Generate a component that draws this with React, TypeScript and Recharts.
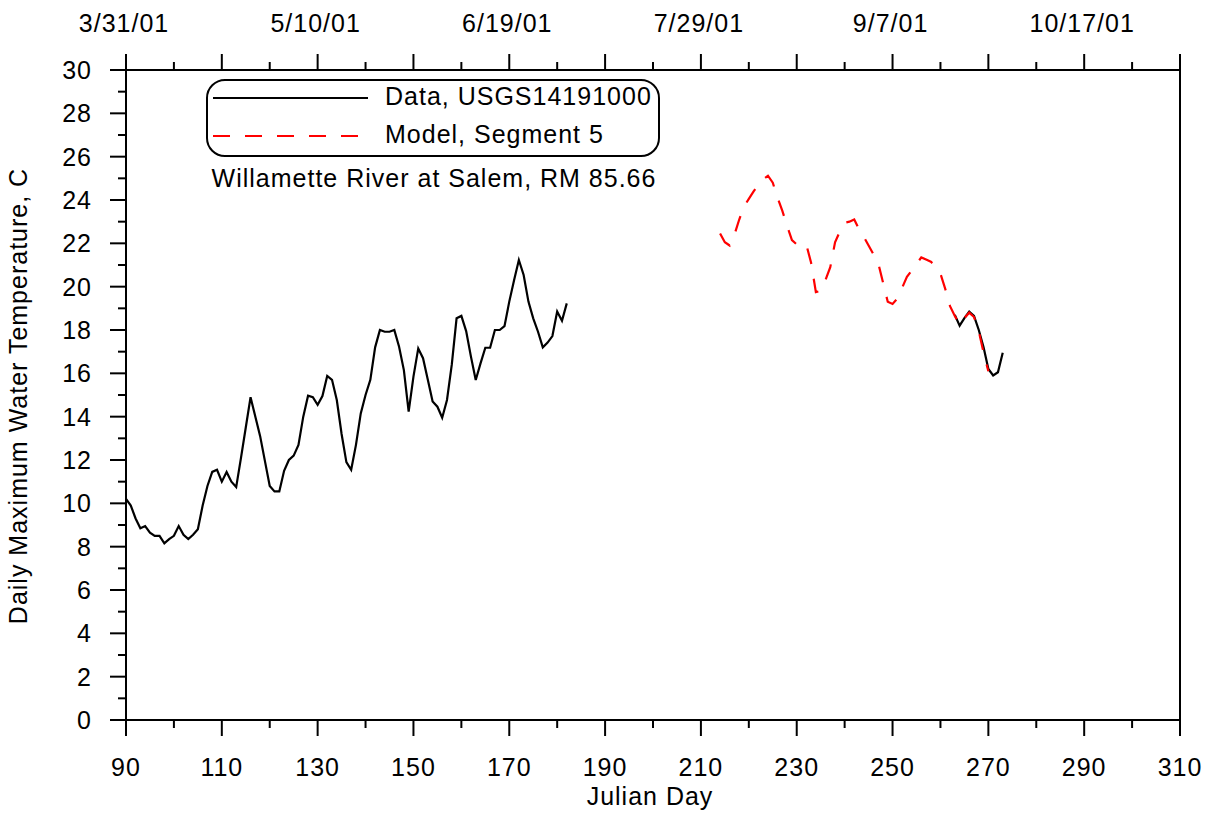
import { LineChart, Line, XAxis, YAxis, ReferenceLine } from 'recharts'

const FONT = '"Liberation Sans", Arial, sans-serif'

// Julian day axis (bottom), every 10 days, labelled every 20
const X_TICKS = [90, 100, 110, 120, 130, 140, 150, 160, 170, 180, 190, 200, 210, 220, 230, 240, 250, 260, 270, 280, 290, 300, 310]
const X_MAJOR = [90, 110, 130, 150, 170, 190, 210, 230, 250, 270, 290, 310]

// calendar dates on the top axis
const TOP_LABEL_DAYS = [90, 130, 170, 210, 250, 290]
const TOP_LABELS = ['3/31/01', '5/10/01', '6/19/01', '7/29/01', '9/7/01', '10/17/01']

const Y_TICKS = [0, 1, 2, 3, 4, 5, 6, 7, 8, 9, 10, 11, 12, 13, 14, 15, 16, 17, 18, 19, 20, 21, 22, 23, 24, 25, 26, 27, 28, 29, 30]

// Data, USGS14191000 - daily max from day 90
const OBS_START_A = 90
const OBS_TEMPS_A = [
  10.2, 9.9, 9.3, 8.85, 8.95, 8.65, 8.5, 8.5, 8.15, 8.35,
  8.5, 8.95, 8.55, 8.35, 8.55, 8.8, 9.9, 10.8, 11.45, 11.55,
  11.0, 11.45, 11.0, 10.75, 12.1, 13.5, 14.9, 14.0, 13.1, 11.95,
  10.8, 10.55, 10.55, 11.5, 12.0, 12.2, 12.7, 14.0, 14.97, 14.9,
  14.55, 14.95, 15.88, 15.7, 14.77, 13.2, 11.9, 11.55, 12.7, 14.15,
  15.0, 15.7, 17.2, 18.0, 17.92, 17.92, 18.0, 17.23, 16.15, 14.23,
  15.85, 17.15, 16.7, 15.7, 14.7, 14.46, 13.95, 14.77, 16.4, 18.54,
  18.65, 17.95, 16.77, 15.69, 16.46, 17.18, 17.18, 18.0, 18.0, 18.18,
  19.31, 20.3, 21.23, 20.54, 19.31, 18.54, 17.92, 17.2, 17.42, 17.72,
  18.85, 18.43, 19.23,
]

// second stretch of gauge data, from day 263
const OBS_START_B = 263
const OBS_TEMPS_B = [18.7, 18.2, 18.55, 18.85, 18.65, 18.0, 17.2, 16.2, 15.9, 16.05, 16.95]

// Model, Segment 5 - from day 214
const MODEL_START = 214
const MODEL_TEMPS = [
  22.45, 22.05, 21.9, 22.4, 23.1, 23.7, 24.05, 24.4, 24.7, 24.95,
  25.12, 24.8, 24.1, 23.5, 22.8, 22.15, 21.95, 21.9, 21.95, 21.1,
  19.75, 19.8, 20.3, 20.9, 22.05, 22.55, 22.95, 23.0, 23.1, 22.65,
  22.3, 21.9, 21.5, 21.1, 20.2, 19.3, 19.2, 19.45, 19.95, 20.45,
  20.75, 21.05, 21.35, 21.25, 21.15, 20.95, 20.6, 19.9, 19.1, 18.65,
  18.25, 18.55, 18.8, 18.6, 17.95, 16.95, 16.1,
]

const toPoints = (start: number, temps: number[]) =>
  temps.map((t, i) => ({ day: start + i, temp: t }))

const obsA = toPoints(OBS_START_A, OBS_TEMPS_A)
const obsB = toPoints(OBS_START_B, OBS_TEMPS_B)
const model = toPoints(MODEL_START, MODEL_TEMPS)

const textProps = { fontSize: 25, fontFamily: FONT, fill: '#000', letterSpacing: 1 }

const BottomTick = ({ x, y, payload }: any) => {
  const major = X_MAJOR.includes(payload.value)
  return (
    <g>
      <line x1={x} x2={x} y1={y} y2={y + (major ? 16 : 8)} stroke="#000" strokeWidth={2} />
      {major && (
        <text x={x} y={y + 56} textAnchor="middle" {...textProps}>
          {payload.value}
        </text>
      )}
    </g>
  )
}

const TopTick = ({ x, y, payload }: any) => {
  const major = X_MAJOR.includes(payload.value)
  const idx = TOP_LABEL_DAYS.indexOf(payload.value)
  return (
    <g>
      <line x1={x} x2={x} y1={y} y2={y - (major ? 16 : 8)} stroke="#000" strokeWidth={2} />
      {idx >= 0 && (
        <text x={x - 2} y={y - 38} textAnchor="middle" {...textProps}>
          {TOP_LABELS[idx]}
        </text>
      )}
    </g>
  )
}

const LeftTick = ({ x, y, payload }: any) => {
  const major = payload.value % 2 === 0
  return (
    <g>
      <line x1={x} x2={x - (major ? 16 : 8)} y1={y} y2={y} stroke="#000" strokeWidth={2} />
      {major && (
        <text x={x - 34} y={y + 9} textAnchor="end" {...textProps}>
          {payload.value}
        </text>
      )}
    </g>
  )
}

const axisLine = { stroke: '#000', strokeWidth: 2 }

export default function App() {
  return (
    <div style={{ position: 'absolute', left: 0, top: 0, width: 1209, height: 815, background: '#fff' }}>
      <LineChart
        width={1209}
        height={815}
        margin={{ top: 69, right: 29, bottom: 94, left: 125 }}
      >
        <XAxis
          dataKey="day"
          type="number"
          domain={[90, 310]}
          allowDataOverflow
          ticks={X_TICKS}
          interval={0}
          height={1}
          tickSize={0}
          tickMargin={0}
          tickLine={false}
          axisLine={axisLine}
          tick={<BottomTick />}
        />
        <XAxis
          xAxisId="top"
          orientation="top"
          dataKey="day"
          type="number"
          domain={[90, 310]}
          allowDataOverflow
          ticks={X_TICKS}
          interval={0}
          height={1}
          tickSize={0}
          tickMargin={0}
          tickLine={false}
          axisLine={axisLine}
          tick={<TopTick />}
        />
        <YAxis
          type="number"
          domain={[0, 30]}
          allowDataOverflow
          ticks={Y_TICKS}
          interval={0}
          width={1}
          tickSize={0}
          tickMargin={0}
          tickLine={false}
          axisLine={axisLine}
          tick={<LeftTick />}
        />
        <ReferenceLine x={310} stroke="#000" strokeWidth={2} />
        {/* invisible series so the calendar axis on top gets its scale */}
        <Line
          xAxisId="top"
          data={obsA}
          dataKey="temp"
          stroke="none"
          dot={false}
          activeDot={false}
          isAnimationActive={false}
        />
        <Line
          data={obsA}
          dataKey="temp"
          stroke="#000"
          strokeWidth={2.2}
          dot={false}
          isAnimationActive={false}
        />
        <Line
          data={obsB}
          dataKey="temp"
          stroke="#000"
          strokeWidth={2.2}
          dot={false}
          isAnimationActive={false}
        />
        <Line
          data={model}
          dataKey="temp"
          stroke="#ff0000"
          strokeWidth={2.2}
          strokeDasharray="16 15"
          dot={false}
          isAnimationActive={false}
        />
      </LineChart>

      {/* titles, legend box and caption */}
      <svg
        width={1209}
        height={815}
        style={{ position: 'absolute', left: 0, top: 0, pointerEvents: 'none' }}
      >
        <text x={650} y={805} textAnchor="middle" {...textProps}>
          Julian Day
        </text>
        <text x={27} y={396} textAnchor="middle" transform="rotate(-90, 27, 396)" {...textProps}>
          Daily Maximum Water Temperature, C
        </text>

        <rect x={207} y={80} width={452} height={76} rx={18} ry={18} fill="#fff" stroke="#000" strokeWidth={2} />
        <line x1={213} x2={368} y1={98} y2={98} stroke="#000" strokeWidth={2} />
        <text x={385} y={105} {...textProps}>Data, USGS14191000</text>
        <line x1={213} x2={362} y1={136} y2={136} stroke="#ff0000" strokeWidth={2} strokeDasharray="17 15" />
        <text x={385} y={143} {...textProps}>Model, Segment 5</text>

        <text x={434} y={187} textAnchor="middle" {...textProps}>
          Willamette River at Salem, RM 85.66
        </text>
      </svg>
    </div>
  )
}
